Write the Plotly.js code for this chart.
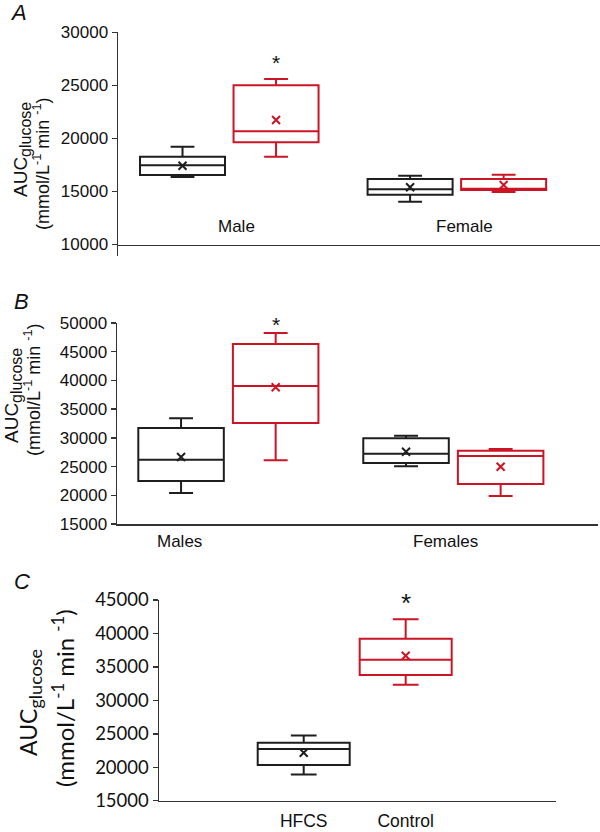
<!DOCTYPE html>
<html><head><meta charset="utf-8">
<script src="https://cdn.plot.ly/plotly-3.0.1.min.js"></script>
<style>
html,body{margin:0;padding:0;background:#fff}
#wrap{position:relative;width:600px;height:832px;overflow:hidden}
.panel{position:absolute;left:0;width:600px}
</style>
</head><body>
<div id="wrap">
  <div id="pA" class="panel" style="top:0;height:268px"></div>
  <div id="pB" class="panel" style="top:268px;height:284px"></div>
  <div id="pC" class="panel" style="top:552px;height:280px"></div>
</div>
<script>
// ---------------- DATA ----------------
// Panel A
const catsA = ['Male', 'Female'];
const hfcsA_lo   = [16360, 14030];
const hfcsA_q1   = [16550, 14690];
const hfcsA_med  = [17460, 15200];
const hfcsA_q3   = [18280, 16170];
const hfcsA_hi   = [19220, 16480];
const hfcsA_mean = [17430, 15390];
const ctrlA_lo   = [18280, 14950];
const ctrlA_q1   = [19630, 15140];
const ctrlA_med  = [20670, 15250];
const ctrlA_q3   = [25000, 16170];
const ctrlA_hi   = [25600, 16580];
const ctrlA_mean = [21730, 15610];
const sigA = ['*', ''];
const ticksA = [10000, 15000, 20000, 25000, 30000];

// Panel B
const catsB = ['Males', 'Females'];
const hfcsB_lo   = [20400, 25050];
const hfcsB_q1   = [22490, 25630];
const hfcsB_med  = [26200, 27250];
const hfcsB_q3   = [31720, 29930];
const hfcsB_hi   = [33410, 30380];
const hfcsB_mean = [26670, 27590];
const ctrlB_lo   = [26100, 19880];
const ctrlB_q1   = [32590, 21970];
const ctrlB_med  = [39030, 26850];
const ctrlB_q3   = [46340, 27770];
const ctrlB_hi   = [48260, 28060];
const ctrlB_mean = [38800, 24980];
const sigB = ['*', ''];
const ticksB = [15000, 20000, 25000, 30000, 35000, 40000, 45000, 50000];

// Panel C
const catsC = ['HFCS', 'Control'];
const lowC  = [18925, 32330];
const q1C   = [20320, 33780];
const medC  = [22710, 36070];
const q3C   = [23650, 39210];
const highC = [24760, 42110];
const meanC = [22160, 36670];
const sigC  = ['', '*'];
const ticksC = [15000, 20000, 25000, 30000, 35000, 40000, 45000];

// ---------------- STYLE ----------------
const BLACK = '#1e1e1e', RED = '#cc1424', AXIS = '#333333';
const ARIAL = 'Liberation Sans, Arial, sans-serif';
const CAL = 'Lato, Liberation Sans, sans-serif';
function title1(subPx) { return 'AUC<sub><span style="font-size:' + subPx + 'px">glucose</span></sub>'; }
const TITLE2 = '(mmol/L<sup>-1</sup> min <sup>-1</sup>)';

function boxTrace(x, lo, q1, med, q3, hi, color, name, og) {
  return {type: 'box', x: x, lowerfence: lo, q1: q1, median: med, q3: q3, upperfence: hi,
    name: name, offsetgroup: og, line: {color: color, width: 2},
    fillcolor: 'rgba(0,0,0,0)', whiskerwidth: 0.28, boxpoints: false, hoverinfo: 'skip'};
}
function meanTrace(x, y, color, name, og) {
  return {type: 'scatter', mode: 'markers', x: x, y: y, name: name, offsetgroup: og,
    orientation: 'v', cliponaxis: false,
    marker: {symbol: 'x-thin', size: 8, color: color, line: {color: color, width: 2}},
    hoverinfo: 'skip'};
}
function yAx(domain, range, ticks, font) {
  return {domain: domain, range: range, anchor: 'x', tickvals: ticks, tickformat: 'd',
    showline: true, linecolor: AXIS, linewidth: 1.5, ticks: 'outside', ticklen: 5,
    tickwidth: 1.5, tickcolor: AXIS, showgrid: false, zeroline: false,
    tickfont: font, fixedrange: true};
}
function ann(text, x, y, size, extra) {
  return Object.assign({text: text, x: x, y: y, xref: 'paper', yref: 'paper',
    xanchor: 'center', yanchor: 'middle', showarrow: false,
    font: {family: ARIAL, size: size, color: '#111'}}, extra || {});
}
const config = {staticPlot: true, displayModeBar: false};

// ---------------- PANEL A ----------------
(function () {
  const H = 268, gap = 0.178, ggap = 0.091, unitPx = 227.6;
  const shift = 0.25 * (1 - gap) * unitPx;
  const labelShift = [7, 8];
  const annotations = [
    ann('A', 18 / 600, (H - 12) / H, 22, {font: {family: ARIAL, size: 22, color: '#111', style: 'italic'}}),
    ann(title1(16), 22 / 600, (H - 150) / H, 19, {textangle: -90}),
    ann(TITLE2, 41 / 600, (H - 164) / H, 18, {textangle: -90})
  ];
  catsA.forEach((c, i) => annotations.push({text: c, x: c, xref: 'x', xshift: labelShift[i],
    y: (H - 226) / H, yref: 'paper', showarrow: false, xanchor: 'center', yanchor: 'middle',
    font: {family: ARIAL, size: 17, color: '#111'}}));
  catsA.forEach((c, i) => { if (sigA[i]) annotations.push({text: sigA[i], x: c, xref: 'x',
    xshift: shift, y: ctrlA_hi[i], yref: 'y', yshift: 16, showarrow: false,
    xanchor: 'center', yanchor: 'middle', font: {family: ARIAL, size: 21, color: '#111'}}); });
  const data = [
    boxTrace(catsA, hfcsA_lo, hfcsA_q1, hfcsA_med, hfcsA_q3, hfcsA_hi, BLACK, 'HFCS', 'h'),
    boxTrace(catsA, ctrlA_lo, ctrlA_q1, ctrlA_med, ctrlA_q3, ctrlA_hi, RED, 'Control', 'c'),
    meanTrace(catsA, hfcsA_mean, BLACK, 'HFCS mean', 'h'),
    meanTrace(catsA, ctrlA_mean, RED, 'Control mean', 'c')
  ];
  const layout = {
    width: 600, height: H, margin: {l: 0, r: 0, t: 0, b: 0}, showlegend: false,
    paper_bgcolor: '#fff', plot_bgcolor: 'rgba(0,0,0,0)',
    boxmode: 'group', boxgap: gap, boxgroupgap: ggap, scattermode: 'group', scattergap: gap,
    xaxis: {domain: [118 / 600, 1], type: 'category', range: [-0.489, 1.629], anchor: 'free',
      position: (H - 244.5) / H, showline: true, linecolor: AXIS, linewidth: 1.5, ticks: '',
      showticklabels: false, showgrid: false, zeroline: false, fixedrange: true},
    yaxis: yAx([12 / H, (H - 32.3) / H], [8916, 30000], ticksA, {family: ARIAL, size: 17, color: '#111'}),
    annotations: annotations
  };
  Plotly.newPlot('pA', data, layout, config);
})();

// ---------------- PANEL B ----------------
(function () {
  const H = 284, gap = 0.159, ggap = 0.096, unitPx = 225;
  const shift = 0.25 * (1 - gap) * unitPx;
  const labelShift = [-49, -8];
  const annotations = [
    ann('B', 21 / 600, (H - 34) / H, 22, {font: {family: ARIAL, size: 22, color: '#111', style: 'italic'}}),
    ann(title1(16), 13 / 600, (H - 128) / H, 19, {textangle: -90}),
    ann(TITLE2, 32 / 600, (H - 122) / H, 18, {textangle: -90})
  ];
  catsB.forEach((c, i) => annotations.push({text: c, x: c, xref: 'x', xshift: labelShift[i],
    y: (H - 273) / H, yref: 'paper', showarrow: false, xanchor: 'center', yanchor: 'middle',
    font: {family: ARIAL, size: 17, color: '#111'}}));
  catsB.forEach((c, i) => { if (sigB[i]) annotations.push({text: sigB[i], x: c, xref: 'x',
    xshift: shift, y: ctrlB_hi[i], yref: 'y', yshift: 8, showarrow: false,
    xanchor: 'center', yanchor: 'middle', font: {family: ARIAL, size: 21, color: '#111'}}); });
  const data = [
    boxTrace(catsB, hfcsB_lo, hfcsB_q1, hfcsB_med, hfcsB_q3, hfcsB_hi, BLACK, 'HFCS', 'h'),
    boxTrace(catsB, ctrlB_lo, ctrlB_q1, ctrlB_med, ctrlB_q3, ctrlB_hi, RED, 'Control', 'c'),
    meanTrace(catsB, hfcsB_mean, BLACK, 'HFCS mean', 'h'),
    meanTrace(catsB, ctrlB_mean, RED, 'Control mean', 'c')
  ];
  const layout = {
    width: 600, height: H, margin: {l: 0, r: 0, t: 0, b: 0}, showlegend: false,
    paper_bgcolor: '#fff', plot_bgcolor: 'rgba(0,0,0,0)',
    boxmode: 'group', boxgap: gap, boxgroupgap: ggap, scattermode: 'group', scattergap: gap,
    xaxis: {domain: [117 / 600, 598 / 600], type: 'category', range: [-0.495, 1.643], anchor: 'y',
      showline: true, linecolor: AXIS, linewidth: 1.5, ticks: '', showticklabels: false,
      showgrid: false, zeroline: false, fixedrange: true},
    yaxis: yAx([(H - 256) / H, (H - 55) / H], [15000, 50000], ticksB, {family: ARIAL, size: 17, color: '#111'}),
    annotations: annotations
  };
  Plotly.newPlot('pB', data, layout, config);
})();

// ---------------- PANEL C ----------------
(function () {
  const H = 280;
  const annotations = [
    ann('C', 22 / 600, (H - 30) / H, 22, {font: {family: ARIAL, size: 22, color: '#111', style: 'italic'}}),
    ann(title1(18), 30 / 600, (H - 151) / H, 23, {textangle: -90, font: {family: CAL, size: 23, color: '#111'}}),
    ann(TITLE2, 63 / 600, (H - 146) / H, 24, {textangle: -90, font: {family: CAL, size: 24, color: '#111'}})
  ];
  catsC.forEach((c, i) => { if (sigC[i]) annotations.push({text: sigC[i], x: c, xref: 'x',
    y: highC[i], yref: 'y', yshift: 16, showarrow: false, xanchor: 'center', yanchor: 'middle',
    font: {family: ARIAL, size: 26, color: '#111'}}); });
  const colors = [BLACK, RED];
  const data = [];
  catsC.forEach((c, i) => data.push(boxTrace([c], [lowC[i]], [q1C[i]], [medC[i]], [q3C[i]], [highC[i]], colors[i], c, 'one')));
  catsC.forEach((c, i) => data.push(meanTrace([c], [meanC[i]], colors[i], c + ' mean', 'one')));
  const layout = {
    width: 600, height: H, margin: {l: 0, r: 0, t: 0, b: 0}, showlegend: false,
    paper_bgcolor: '#fff', plot_bgcolor: 'rgba(0,0,0,0)',
    boxmode: 'overlay', boxgap: 0.098, boxgroupgap: 0,
    xaxis: {domain: [159 / 600, 556 / 600], type: 'category', categoryarray: catsC,
      range: [-1.419, 2.474], anchor: 'y', showline: true, linecolor: AXIS, linewidth: 1.5,
      ticks: '', ticklabelstandoff: 4, tickfont: {family: ARIAL, size: 17.5, color: '#111'},
      showgrid: false, zeroline: false, fixedrange: true},
    yaxis: yAx([(H - 248.7) / H, (H - 48) / H], [15000, 45000], ticksC, {family: CAL, size: 18.5, color: '#111'}),
    annotations: annotations
  };
  Plotly.newPlot('pC', data, layout, config);
})();
</script>
</body></html>
